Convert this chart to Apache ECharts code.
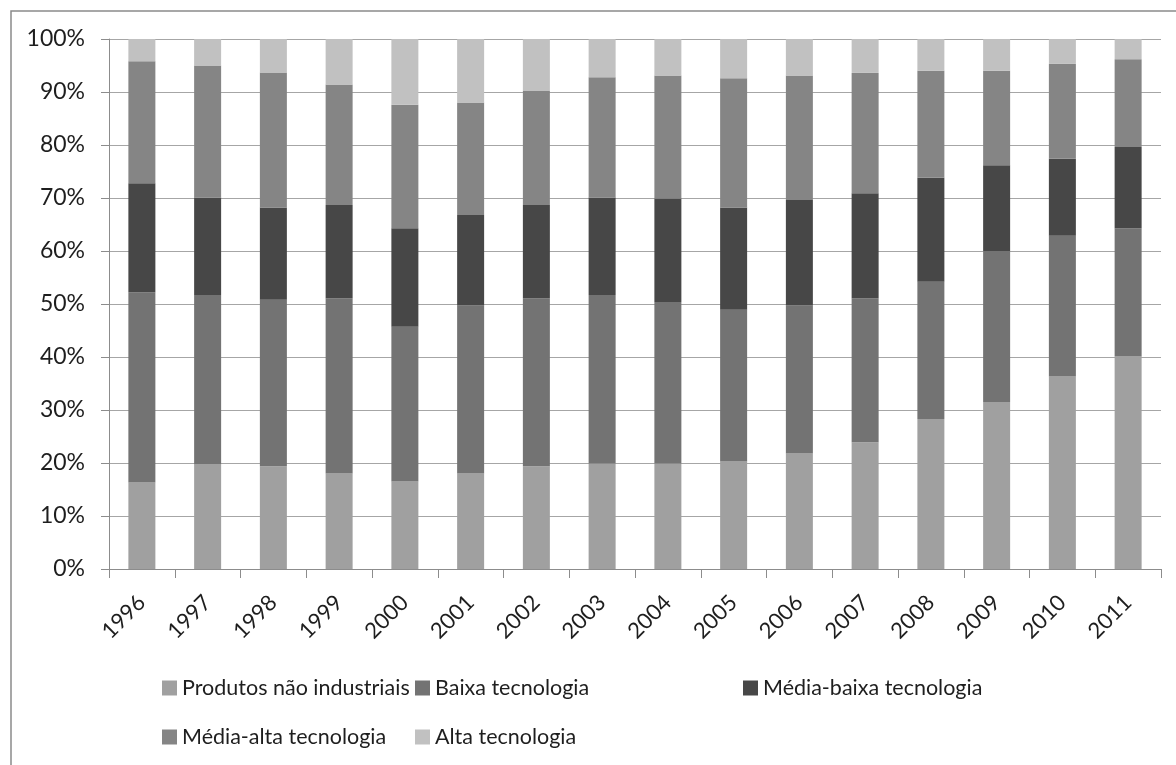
<!DOCTYPE html>
<html>
<head>
<meta charset="utf-8">
<script src="https://cdn.jsdelivr.net/npm/echarts@6/dist/echarts.min.js"></script>
<style>
  html, body { margin: 0; padding: 0; background: #fff; }
  #chart { width: 1176px; height: 765px; }
</style>
</head>
<body>
<div id="chart"></div>
<script>
// Export composition by technology intensity, share of total (%)
const years = ['1996','1997','1998','1999','2000','2001','2002','2003','2004','2005','2006','2007','2008','2009','2010','2011'];

const produtosNaoIndustriais = [16.3, 19.7, 19.4, 18.0, 16.5, 18.0, 19.4, 19.9, 19.9, 20.3, 21.8, 23.9, 28.3, 31.5, 36.3, 40.1];
const baixaTecnologia        = [35.9, 32.0, 31.4, 33.1, 29.2, 31.7, 31.7, 31.8, 30.5, 28.6, 27.9, 27.2, 25.9, 28.5, 26.6, 24.2];
const mediaBaixaTecnologia   = [20.6, 18.4, 17.4, 17.6, 18.6, 17.1, 17.6, 18.4, 19.5, 19.3, 19.9, 19.8, 19.6, 16.2, 14.5, 15.3];
const mediaAltaTecnologia    = [23.0, 24.9, 25.5, 22.7, 23.3, 21.2, 21.5, 22.7, 23.2, 24.4, 23.5, 22.7, 20.2, 17.8, 17.9, 16.6];
const altaTecnologia         = [ 4.2,  5.0,  6.3,  8.6, 12.4, 12.0,  9.8,  7.2,  6.9,  7.4,  6.9,  6.4,  6.0,  6.0,  4.7,  3.8];

const yTicks = [0, 10, 20, 30, 40, 50, 60, 70, 80, 90, 100];

const seriesDefs = [
  { name: 'Produtos não industriais', data: produtosNaoIndustriais, color: '#a0a0a0' },
  { name: 'Baixa tecnologia',         data: baixaTecnologia,        color: '#737373' },
  { name: 'Média-baixa tecnologia',   data: mediaBaixaTecnologia,   color: '#474747' },
  { name: 'Média-alta tecnologia',    data: mediaAltaTecnologia,    color: '#858585' },
  { name: 'Alta tecnologia',          data: altaTecnologia,         color: '#c1c1c1' }
];

const FONT = 'Lato';
const TEXT = '#1e1e1e';

// legend laid out as a two-row grid, one component per entry
const legendSlots = [
  { left: 162, top: 676 },
  { left: 415, top: 676 },
  { left: 743, top: 676 },
  { left: 162, top: 725 },
  { left: 415, top: 725 }
];

const chart = echarts.init(document.getElementById('chart'), null, { renderer: 'canvas' });

chart.setOption({
  animation: false,
  backgroundColor: '#ffffff',
  graphic: [{
    type: 'rect',
    shape: { x: 11, y: 11, width: 1200, height: 800 },
    style: { fill: 'none', stroke: '#8a8a8a', lineWidth: 1.5 },
    silent: true
  }],
  grid: { left: 109, right: 15, top: 39, bottom: 196, containLabel: false },
  legend: seriesDefs.map((s, i) => ({
    data: [s.name],
    left: legendSlots[i].left,
    top: legendSlots[i].top,
    padding: 0,
    itemWidth: 15,
    itemHeight: 15,
    itemGap: 0,
    icon: 'rect',
    selectedMode: false,
    textStyle: { fontFamily: FONT, fontSize: 21.5, color: TEXT, lineHeight: 24 }
  })),
  xAxis: {
    type: 'category',
    data: years,
    axisLine: { show: true, lineStyle: { color: '#8c8c8c', width: 1 } },
    axisTick: { show: true, length: 9, lineStyle: { color: '#8c8c8c' } },
    axisLabel: {
      rotate: 45,
      margin: 30,
      fontFamily: FONT,
      fontSize: 22,
      color: TEXT
    },
    splitLine: { show: false }
  },
  yAxis: {
    type: 'value',
    min: yTicks[0],
    max: yTicks[yTicks.length - 1],
    interval: 10,
    axisLine: { show: true, lineStyle: { color: '#8c8c8c', width: 1 } },
    axisTick: { show: true, length: 8, lineStyle: { color: '#8c8c8c' } },
    axisLabel: {
      margin: 24,
      formatter: '{value}%',
      fontFamily: FONT,
      fontSize: 23,
      color: TEXT
    },
    splitLine: { show: true, lineStyle: { color: '#a6a6a6', width: 1 } }
  },
  series: seriesDefs.map(s => ({
    name: s.name,
    type: 'bar',
    stack: 'total',
    data: s.data,
    barWidth: 27,
    itemStyle: { color: s.color },
    emphasis: { disabled: true }
  }))
});
</script>
</body>
</html>
